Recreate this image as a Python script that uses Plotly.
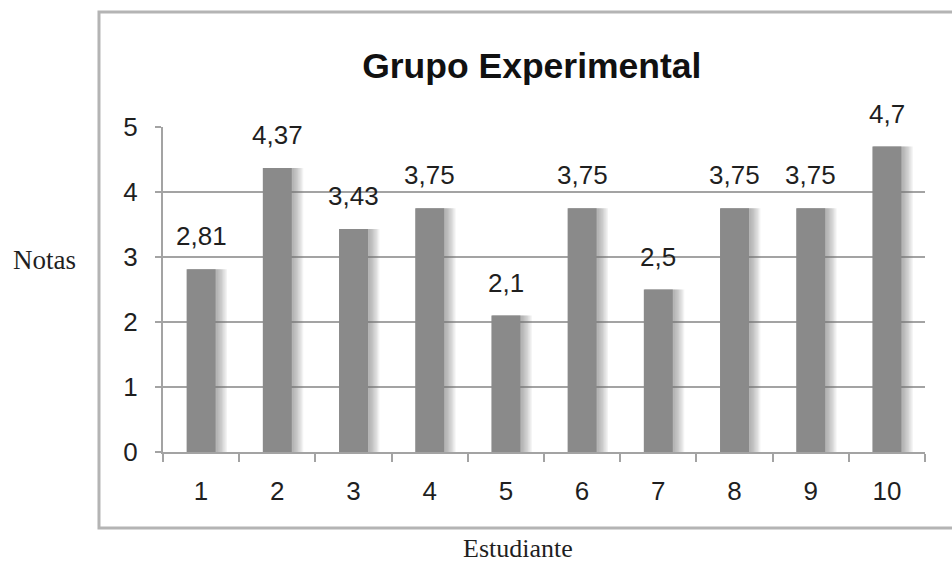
import plotly.graph_objects as go

# Notas por estudiante (grupo experimental)
estudiantes = ["1", "2", "3", "4", "5", "6", "7", "8", "9", "10"]
notas = [2.81, 4.37, 3.43, 3.75, 2.1, 3.75, 2.5, 3.75, 3.75, 4.7]
etiquetas = [f"{v:g}".replace(".", ",") for v in notas]
ticks_y = [0, 1, 2, 3, 4, 5]

BAR_COLOR = "#8a8a8a"
GRID_COLOR = "#a3a3a3"
TEXT_COLOR = "#1f1f1f"
BAR_W = 0.38
PX_PER_CAT = 762 / 10

fig = go.Figure()

# soft drop shadow on the right side of each bar
for i in range(1, 9):
    extra = i * 1.3 / PX_PER_CAT
    fig.add_trace(go.Bar(
        x=estudiantes, y=notas,
        width=BAR_W + extra, offset=-BAR_W / 2 + 1 / PX_PER_CAT,
        marker=dict(color="rgba(120,120,120,0.085)", line=dict(width=0)),
        hoverinfo="skip", showlegend=False,
    ))

fig.add_trace(go.Bar(
    x=estudiantes, y=notas, width=BAR_W,
    marker=dict(color=BAR_COLOR, line=dict(width=0)),
    showlegend=False,
))

for idx, (val, lab) in enumerate(zip(notas, etiquetas)):
    fig.add_annotation(
        x=idx, y=val, text=lab, showarrow=False,
        xref="x", yref="y", xanchor="center", yanchor="middle", yshift=33,
        font=dict(family="Liberation Sans, Arial, sans-serif", size=26, color=TEXT_COLOR),
    )

# axis titles outside the chart frame
fig.add_annotation(
    x=-0.155, y=0.591, xref="paper", yref="paper", text="Notas", showarrow=False,
    xanchor="center", yanchor="middle",
    font=dict(family="Liberation Serif, Times New Roman, serif", size=27, color=TEXT_COLOR),
)
fig.add_annotation(
    x=0.466, y=-0.298, xref="paper", yref="paper", text="Estudiante", showarrow=False,
    xanchor="center", yanchor="middle",
    font=dict(family="Liberation Serif, Times New Roman, serif", size=26, color=TEXT_COLOR),
)

# chart frame
fig.add_shape(
    type="rect", xref="paper", yref="paper",
    x0=-0.084, x1=1.04, y0=-0.234, y1=1.354,
    line=dict(color="#b4b4b4", width=3), layer="below",
)

fig.update_layout(
    width=952, height=563,
    margin=dict(l=163, r=27, t=127, b=111),
    paper_bgcolor="white", plot_bgcolor="white",
    barmode="overlay",
    title=dict(
        text="<b>Grupo Experimental</b>",
        x=0.484, xref="paper", xanchor="center",
        y=1 - 66 / 563, yref="container", yanchor="middle",
        font=dict(family="Liberation Sans, Arial, sans-serif", size=35.5, color="#111111"),
    ),
    xaxis=dict(
        type="category", range=[-0.5, 9.5],
        showline=True, linecolor=GRID_COLOR, linewidth=2,
        ticks="outside", tickson="boundaries", ticklen=8, tickwidth=2, tickcolor=GRID_COLOR,
        ticklabelstandoff=15,
        tickfont=dict(family="Liberation Sans, Arial, sans-serif", size=26, color=TEXT_COLOR),
        showgrid=False, zeroline=False,
    ),
    yaxis=dict(
        range=[0, 5], tickvals=ticks_y,
        showline=True, linecolor=GRID_COLOR, linewidth=2,
        ticks="outside", ticklen=6, tickwidth=2, tickcolor=GRID_COLOR,
        ticklabelstandoff=12,
        showgrid=True, gridcolor=GRID_COLOR, gridwidth=2,
        zeroline=False,
        tickfont=dict(family="Liberation Sans, Arial, sans-serif", size=26, color=TEXT_COLOR),
    ),
)

fig.write_html("out.html")
